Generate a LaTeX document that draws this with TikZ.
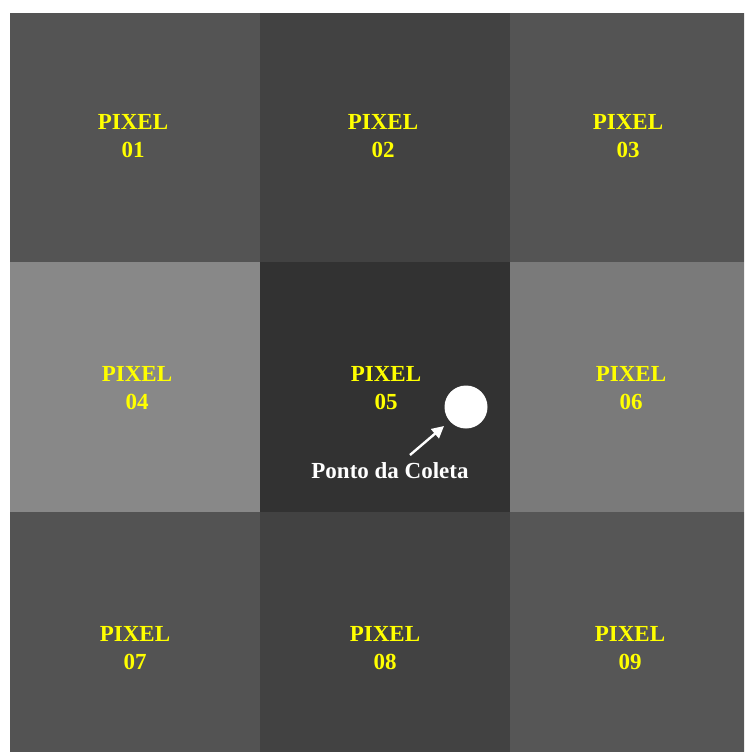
\documentclass[tikz,border=0pt]{standalone}
\usepackage{fontspec}
\setmainfont{Liberation Serif}
\usetikzlibrary{arrows.meta}
\definecolor{pixyellow}{RGB}{255,255,0}
\definecolor{cA}{RGB}{84,84,84}
\definecolor{cB}{RGB}{66,66,66}
\definecolor{cC}{RGB}{84,84,84}
\definecolor{cD}{RGB}{136,136,136}
\definecolor{cE}{RGB}{50,50,50}
\definecolor{cF}{RGB}{122,122,122}
\definecolor{cG}{RGB}{83,83,83}
\definecolor{cH}{RGB}{66,66,66}
\definecolor{cI}{RGB}{86,86,86}
\tikzset{
  pixlabel/.style={text=pixyellow, font=\fontsize{23}{28.5}\selectfont\bfseries, align=center, inner sep=0pt},
  ptlabel/.style={text=white, font=\fontsize{23}{28}\selectfont\bfseries, inner sep=0pt},
}
\begin{document}
\begin{tikzpicture}[x=1pt,y=-1pt]
\useasboundingbox (0,0) rectangle (744,752);
\fill[white] (0,0) rectangle (744,752);
\begin{scope}
\clip (0,0) rectangle (744,752);
\fill[cA] (10,13) rectangle (260,262);
\fill[cB] (260,13) rectangle (510,262);
\fill[cC] (510,13) rectangle (760,262);
\fill[cD] (10,262) rectangle (260,512);
\fill[cE] (260,262) rectangle (510,512);
\fill[cF] (510,262) rectangle (760,512);
\fill[cG] (10,512) rectangle (260,762);
\fill[cH] (260,512) rectangle (510,762);
\fill[cI] (510,512) rectangle (760,762);
\end{scope}
\node[pixlabel] (p1) at (133,136) {PIXEL\\01};
\node[pixlabel] (p2) at (383,136) {PIXEL\\02};
\node[pixlabel] (p3) at (628,136) {PIXEL\\03};
\node[pixlabel] (p4) at (137,388) {PIXEL\\04};
\node[pixlabel] (p5) at (386,388) {PIXEL\\05};
\node[pixlabel] (p6) at (631,388) {PIXEL\\06};
\node[pixlabel] (p7) at (135,648) {PIXEL\\07};
\node[pixlabel] (p8) at (385,648) {PIXEL\\08};
\node[pixlabel] (p9) at (630,648) {PIXEL\\09};
\node[circle, fill=white, minimum size=43pt, inner sep=0pt] (pt) at (466,407) {};
\node[ptlabel, anchor=base] (lbl) at (390,478) {Ponto da Coleta};
\coordinate (atail) at (410,455);
\coordinate (ahead) at (444,426);
\draw[white, line width=2.4pt, -{Triangle[width=12pt,length=12pt]}] (atail) -- (ahead);
\end{tikzpicture}
\end{document}
